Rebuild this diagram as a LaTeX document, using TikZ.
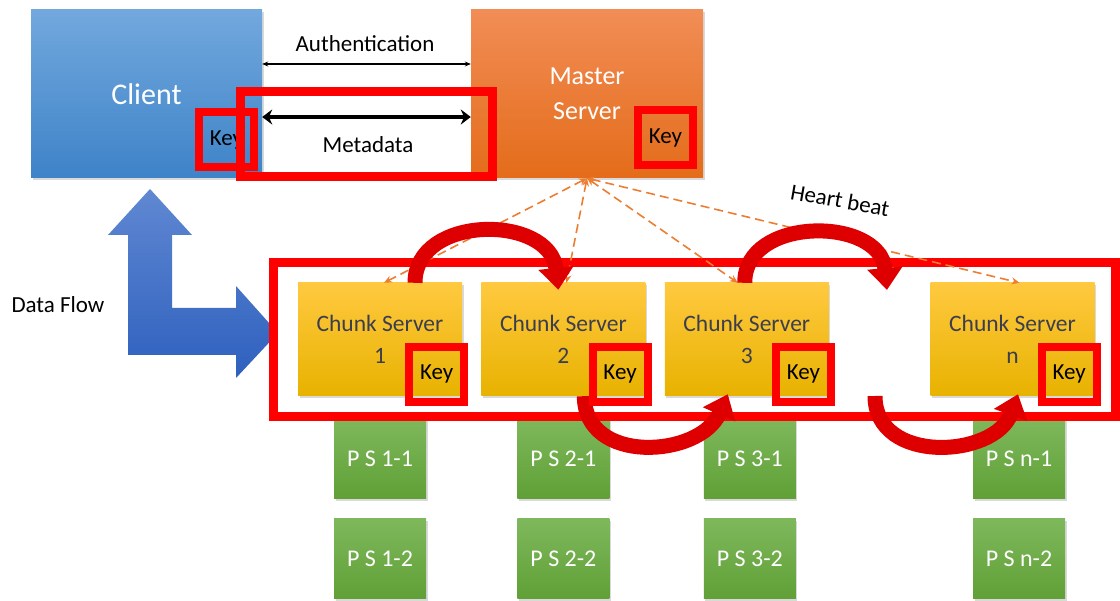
\documentclass[tikz,border=0pt]{standalone}
\usepackage{fontspec}
\setmainfont{Carlito}
\usetikzlibrary{arrows.meta}
\usetikzlibrary{positioning}
\usetikzlibrary{shadows}
\definecolor{clienttop}{RGB}{114,168,221}
\definecolor{clientbot}{RGB}{62,131,200}
\definecolor{mastertop}{RGB}{241,141,86}
\definecolor{masterbot}{RGB}{228,108,26}
\definecolor{chunktop}{RGB}{255,201,64}
\definecolor{chunkbot}{RGB}{232,178,0}
\definecolor{chunktext}{RGB}{60,62,78}
\definecolor{pstop}{RGB}{126,184,92}
\definecolor{psbot}{RGB}{96,160,54}
\definecolor{flowtop}{RGB}{96,136,210}
\definecolor{flowbot}{RGB}{46,96,190}
\definecolor{keyred}{RGB}{255,0,0}
\definecolor{arcred}{RGB}{222,0,0}
\definecolor{hbcolor}{RGB}{237,125,49}
\tikzset{%
	% Specifications for style of nodes:
	base/.style = {rectangle, inner sep=0pt, align=center,
		drop shadow={shadow xshift=1.5pt, shadow yshift=-2.5pt, opacity=0.3}},
	client/.style = {base, minimum width=231pt, minimum height=168pt,
		top color=clienttop, bottom color=clientbot, text=white,
		font=\fontsize{30}{36}\selectfont},
	master/.style = {base, minimum width=232pt, minimum height=168pt,
		top color=mastertop, bottom color=masterbot, text=white,
		font=\fontsize{26}{35}\selectfont},
	chunk/.style = {base, minimum width=164pt, minimum height=113pt,
		top color=chunktop, bottom color=chunkbot, text=chunktext,
		font=\fontsize{23.5}{32}\selectfont},
	pserver/.style = {base, minimum width=92pt, minimum height=80pt,
		top color=pstop, bottom color=psbot, text=white,
		font=\fontsize{24}{26}\selectfont},
	keybox/.style = {draw=keyred, line width=8pt, minimum size=55pt,
		inner sep=0pt, font=\fontsize{23}{26}\selectfont},
	lbl/.style = {font=\fontsize{23}{26}\selectfont},
	% Specifications for style of lines:
	redframe/.style = {draw=keyred, line width=9pt},
	heartbeat/.style = {draw=hbcolor, line width=1.6pt, dash pattern=on 9pt off 5pt,
		{Stealth[length=8pt,width=7pt]}-{Stealth[length=8pt,width=7pt]}},
	flow/.style = {draw=arcred, line width=15pt, -{Triangle[width=34pt,length=22pt]}},
}

\begin{document}
\begin{tikzpicture}[x=1pt, y=-1pt]
	\useasboundingbox (0,0) rectangle (1120,601);
	% Client and master
	\node (client) [client] at (146.5,94) {Client};
	\node (master) [master] at (587,94) {Master\\Server};
	\node (ckey)   [keybox] at (226.5,140) {Key};
	\node (mkey)   [keybox] at (665.5,138) {Key};
	\draw[{Stealth[length=6pt,width=5pt]}-{Stealth[length=6pt,width=5pt]}, line width=1.2pt]
		([yshift=30pt]client.east) -- ([yshift=30pt]master.west);
	\draw[{Stealth[length=10pt,width=15pt]}-{Stealth[length=10pt,width=15pt]}, line width=4pt]
		([yshift=-23pt]client.east) -- ([yshift=-23pt]master.west);
	\node (auth) [lbl] at (365,44) {Authentication};
	\node (meta) [lbl] at (368,145) {Metadata};
	\draw[redframe] (240,92) rectangle (492,177);

	% Data flow arrow
	\shade[top color=flowtop, bottom color=flowbot]
		(150,189) -- (192,235) -- (172,235) -- (172,308) -- (236,308) -- (236,286)
		-- (278,333) -- (236,378) -- (236,355) -- (128,355) -- (128,235) -- (108,235) -- cycle;
	\node (dflow) [lbl] at (58,305) {Data Flow};

	% Chunk servers
	\node (cs1) [chunk] at (380,339.5) {Chunk Server\\1};
	\node (cs2) [chunk, right=19pt of cs1] {Chunk Server\\2};
	\node (cs3) [chunk, right=19pt of cs2] {Chunk Server\\3};
	\node (csn) [chunk] at (1012.5,339.5) {Chunk Server\\n};

	% Storage under each chunk server
	\node (ps11) [pserver, below=22pt of cs1] {P S 1-1};
	\node (ps12) [pserver, below=20pt of ps11] {P S 1-2};
	\node (ps21) [pserver, below=22pt of cs2] {P S 2-1};
	\node (ps22) [pserver, below=20pt of ps21] {P S 2-2};
	\node (ps31) [pserver, below=22pt of cs3, xshift=3pt] {P S 3-1};
	\node (ps32) [pserver, below=20pt of ps31] {P S 3-2};
	\node (psn1) [pserver, below=22pt of csn, xshift=6.5pt] {P S n-1};
	\node (psn2) [pserver, below=20pt of psn1] {P S n-2};

	\draw[redframe] (273.5,262.5) rectangle (1115.5,416.5);

	% Heart beat
	\draw[heartbeat] (master.south) -- ([xshift=4pt]cs1.north);
	\draw[heartbeat] (master.south) -- ([xshift=3pt]cs2.north);
	\draw[heartbeat] (master.south) -- ([xshift=-9pt]cs3.north);
	\draw[heartbeat] (master.south) -- ([xshift=7pt]csn.north);
	\node (hb) [lbl, rotate=-10] at (840,200) {Heart beat};

	% Hops between chunk servers
	\coordinate (gaptop) at (887,290);
	\coordinate (gapbot) at (875,396);
	\draw[flow] ([xshift=35pt]cs1.north) .. controls (415,214) and (550,214) .. ([xshift=-5pt,yshift=-7pt]cs2.north);
	\draw[flow] ([xshift=-2pt]cs3.north) .. controls (744,216) and (880,216) .. (gaptop);
	\draw[flow] ([xshift=21pt]cs2.south) .. controls (584,465) and (700,458) .. ([xshift=-19pt,yshift=2pt]cs3.south);
	\draw[flow] (gapbot) .. controls (875,465) and (995,458) .. ([xshift=5.5pt,yshift=2pt]csn.south);

	% Keys of the chunk servers
	\node (k1) [keybox] at ([xshift=-25.5pt,yshift=22pt]cs1.south east) {Key};
	\node (k2) [keybox] at ([xshift=-25.5pt,yshift=22pt]cs2.south east) {Key};
	\node (k3) [keybox] at ([xshift=-25.5pt,yshift=22pt]cs3.south east) {Key};
	\node (kn) [keybox] at ([xshift=-25.5pt,yshift=22pt]csn.south east) {Key};
\end{tikzpicture}
\end{document}
